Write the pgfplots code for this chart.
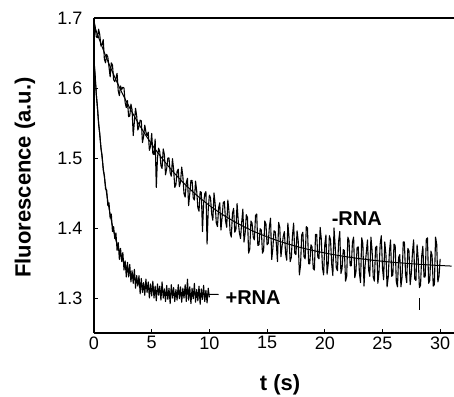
\documentclass[border=0pt]{standalone}
\usepackage{pgfplots}
\pgfplotsset{compat=1.18}
\usepackage{fontspec}
\setmainfont{Liberation Sans}
\begin{document}
\begin{tikzpicture}
\begin{axis}[
  at={(0,0)}, anchor=south west,
  scale only axis, width=360pt, height=315pt,
  xmin=0, xmax=31.2, ymin=1.25, ymax=1.7,
  axis lines*=left, axis line style={-, line width=1.2pt},
  tick align=inside, major tick length=4pt,
  tick style={line width=0.8pt, black},
  xtick={0,5,10,15,20,25,30}, ytick={1.3,1.4,1.5,1.6,1.7},
  yticklabel style={/pgf/number format/fixed, /pgf/number format/precision=1, /pgf/number format/fixed zerofill, xshift=-8pt},
  /pgf/number format/assume math mode=true,
  tick label style={font=\fontsize{18}{20}\selectfont},
  clip=false, no marks,
]
% -RNA trace
\addplot[black, line width=1.1pt, line join=round] coordinates {
(0.0,1.695)(0.1,1.688)(0.2,1.673)(0.3,1.672)(0.4,1.684)(0.5,1.676)(0.6,1.660)(0.7,1.662)(0.8,1.669)(0.9,1.641)
(1.0,1.636)(1.1,1.648)(1.2,1.644)(1.3,1.630)(1.4,1.616)(1.5,1.636)(1.6,1.633)(1.7,1.612)(1.8,1.609)(1.9,1.614)
(2.0,1.621)(2.1,1.596)(2.2,1.589)(2.3,1.603)(2.4,1.598)(2.5,1.601)(2.6,1.600)(2.7,1.579)(2.8,1.572)(2.9,1.582)
(3.0,1.559)(3.1,1.560)(3.2,1.577)(3.3,1.569)(3.4,1.532)(3.5,1.552)(3.6,1.571)(3.7,1.560)(3.8,1.540)(3.9,1.545)
(4.0,1.554)(4.1,1.553)(4.2,1.522)(4.3,1.531)(4.4,1.547)(4.5,1.537)(4.6,1.532)(4.7,1.537)(4.8,1.511)(4.9,1.517)
(5.0,1.535)(5.1,1.506)(5.2,1.505)(5.3,1.527)(5.4,1.458)(5.5,1.500)(5.6,1.514)(5.7,1.509)(5.8,1.489)(5.9,1.485)
(6.0,1.513)(6.1,1.505)(6.2,1.476)(6.3,1.485)(6.4,1.500)(6.5,1.500)(6.6,1.479)(6.7,1.474)(6.8,1.499)(6.9,1.484)
(7.0,1.458)(7.1,1.462)(7.2,1.481)(7.3,1.484)(7.4,1.459)(7.5,1.466)(7.6,1.487)(7.7,1.474)(7.8,1.449)(7.9,1.444)
(8.0,1.465)(8.1,1.471)(8.2,1.432)(8.3,1.449)(8.4,1.468)(8.5,1.468)(8.6,1.443)(8.7,1.440)(8.8,1.467)(8.9,1.453)
(9.0,1.429)(9.1,1.424)(9.2,1.452)(9.3,1.451)(9.4,1.395)(9.5,1.435)(9.6,1.449)(9.7,1.452)(9.8,1.377)(9.9,1.426)
(10.0,1.447)(10.1,1.443)(10.2,1.420)(10.3,1.411)(10.4,1.450)(10.5,1.434)(10.6,1.407)(10.7,1.402)(10.8,1.429)(10.9,1.436)
(11.0,1.397)(11.1,1.415)(11.2,1.436)(11.3,1.438)(11.4,1.410)(11.5,1.401)(11.6,1.440)(11.7,1.423)(11.8,1.393)(11.9,1.387)
(12.0,1.421)(12.1,1.428)(12.2,1.394)(12.3,1.398)(12.4,1.435)(12.5,1.410)(12.6,1.393)(12.7,1.385)(12.8,1.408)(12.9,1.427)
(13.0,1.380)(13.1,1.393)(13.2,1.419)(13.3,1.415)(13.4,1.364)(13.5,1.370)(13.6,1.410)(13.7,1.407)(13.8,1.387)(13.9,1.383)
(14.0,1.418)(14.1,1.420)(14.2,1.375)(14.3,1.376)(14.4,1.399)(14.5,1.397)(14.6,1.364)(14.7,1.368)(14.8,1.410)(14.9,1.406)
(15.0,1.376)(15.1,1.378)(15.2,1.402)(15.3,1.414)(15.4,1.355)(15.5,1.371)(15.6,1.396)(15.7,1.395)(15.8,1.378)(15.9,1.352)
(16.0,1.408)(16.1,1.401)(16.2,1.359)(16.3,1.374)(16.4,1.388)(16.5,1.395)(16.6,1.364)(16.7,1.354)(16.8,1.407)(16.9,1.387)
(17.0,1.352)(17.1,1.358)(17.2,1.389)(17.3,1.407)(17.4,1.364)(17.5,1.362)(17.6,1.396)(17.7,1.381)(17.8,1.333)(17.9,1.347)
(18.0,1.390)(18.1,1.394)(18.2,1.359)(18.3,1.356)(18.4,1.402)(18.5,1.400)(18.6,1.349)(18.7,1.349)(18.8,1.376)(18.9,1.373)
(19.0,1.342)(19.1,1.340)(19.2,1.391)(19.3,1.391)(19.4,1.358)(19.5,1.356)(19.6,1.401)(19.7,1.384)(19.8,1.343)(19.9,1.333)
(20.0,1.376)(20.1,1.390)(20.2,1.334)(20.3,1.349)(20.4,1.389)(20.5,1.383)(20.6,1.348)(20.7,1.332)(20.8,1.400)(20.9,1.374)
(21.0,1.343)(21.1,1.339)(21.2,1.381)(21.3,1.395)(21.4,1.335)(21.5,1.342)(21.6,1.369)(21.7,1.368)(21.8,1.324)(21.9,1.331)
(22.0,1.387)(22.1,1.382)(22.2,1.346)(22.3,1.346)(22.4,1.380)(22.5,1.387)(22.6,1.329)(22.7,1.337)(22.8,1.372)(22.9,1.373)
(23.0,1.336)(23.1,1.322)(23.2,1.386)(23.3,1.378)(23.4,1.317)(23.5,1.347)(23.6,1.365)(23.7,1.383)(23.8,1.340)(23.9,1.331)
(24.0,1.387)(24.1,1.368)(24.2,1.330)(24.3,1.324)(24.4,1.372)(24.5,1.374)(24.6,1.321)(24.7,1.337)(24.8,1.377)(24.9,1.389)
(25.0,1.343)(25.1,1.326)(25.2,1.380)(25.3,1.362)(25.4,1.316)(25.5,1.330)(25.6,1.366)(25.7,1.383)(25.8,1.331)(25.9,1.333)
(26.0,1.377)(26.1,1.375)(26.2,1.323)(26.3,1.316)(26.4,1.358)(26.5,1.362)(26.6,1.316)(26.7,1.330)(26.8,1.380)(26.9,1.380)
(27.0,1.334)(27.1,1.322)(27.2,1.371)(27.3,1.367)(27.4,1.319)(27.5,1.335)(27.6,1.365)(27.7,1.383)(27.8,1.327)(27.9,1.325)
(28.0,1.376)(28.1,1.356)(28.2,1.315)(28.3,1.318)(28.4,1.360)(28.5,1.374)(28.6,1.330)(28.7,1.330)(28.8,1.384)(28.9,1.386)
(29.0,1.321)(29.1,1.325)(29.2,1.367)(29.3,1.361)(29.4,1.317)(29.5,1.319)(29.6,1.387)(29.7,1.377)(29.8,1.323)(29.9,1.331)
(30.0,1.356)
};
% -RNA fit
\addplot[black, line width=1pt, smooth] coordinates {
(0,1.690)(1,1.6463)(2,1.6081)(3,1.5746)(4,1.5453)(5,1.5197)(6,1.4973)(7,1.4776)(8,1.4604)(9,1.4454)
(10,1.4323)(11,1.4207)(12,1.4107)(13,1.4018)(14,1.3941)(15,1.3874)(16,1.3814)(17,1.3763)(18,1.3717)(19,1.3678)
(20,1.3643)(21,1.3613)(22,1.3586)(23,1.3563)(24,1.3543)(25,1.3525)(26,1.3509)(27,1.3496)(28,1.3484)(29,1.3473)
(30,1.3464)(31,1.3456)
};
% +RNA trace
\addplot[black, line width=1.1pt, line join=round] coordinates {
(0.0,1.640)(0.1,1.618)(0.2,1.590)(0.3,1.573)(0.4,1.548)(0.5,1.535)(0.6,1.514)(0.7,1.504)(0.8,1.483)(0.9,1.475)
(1.0,1.456)(1.1,1.454)(1.2,1.432)(1.3,1.436)(1.4,1.414)(1.5,1.420)(1.6,1.395)(1.7,1.402)(1.8,1.385)(1.9,1.393)
(2.0,1.368)(2.1,1.379)(2.2,1.355)(2.3,1.371)(2.4,1.352)(2.5,1.365)(2.6,1.340)(2.7,1.353)(2.8,1.330)(2.9,1.351)
(3.0,1.330)(3.1,1.348)(3.2,1.323)(3.3,1.339)(3.4,1.321)(3.5,1.341)(3.6,1.314)(3.7,1.332)(3.8,1.317)(3.9,1.332)
(4.0,1.306)(4.1,1.328)(4.2,1.308)(4.3,1.322)(4.4,1.304)(4.5,1.327)(4.6,1.308)(4.7,1.323)(4.8,1.300)(4.9,1.320)
(5.0,1.303)(5.1,1.324)(5.2,1.300)(5.3,1.317)(5.4,1.296)(5.5,1.320)(5.6,1.304)(5.7,1.317)(5.8,1.297)(5.9,1.323)
(6.0,1.300)(6.1,1.313)(6.2,1.295)(6.3,1.318)(6.4,1.298)(6.5,1.314)(6.6,1.292)(6.7,1.319)(6.8,1.300)(6.9,1.315)
(7.0,1.295)(7.1,1.312)(7.2,1.297)(7.3,1.319)(7.4,1.299)(7.5,1.316)(7.6,1.294)(7.7,1.314)(7.8,1.300)(7.9,1.319)
(8.0,1.295)(8.1,1.327)(8.2,1.297)(8.3,1.316)(8.4,1.292)(8.5,1.314)(8.6,1.299)(8.7,1.321)(8.8,1.294)(8.9,1.312)
(9.0,1.296)(9.1,1.317)(9.2,1.291)(9.3,1.313)(9.4,1.298)(9.5,1.318)(9.6,1.295)(9.7,1.311)(9.8,1.293)(9.9,1.314)
(10.0,1.301)
};
% +RNA fit
\addplot[black, line width=1pt, smooth] coordinates {
(0,1.640)(0.2,1.592)(0.4,1.551)(0.6,1.516)(0.8,1.486)(1.0,1.460)(1.2,1.438)(1.4,1.419)(1.6,1.403)(1.8,1.389)
(2.0,1.377)(2.5,1.354)(3.0,1.338)(3.5,1.328)(4.0,1.320)(5.0,1.312)(6.0,1.308)(7.0,1.3065)(8.0,1.3057)(10.8,1.305)
};
% small marker line
\addplot[black, line width=0.9pt] coordinates {(28.2,1.283)(28.2,1.300)};
\draw[line width=1.2pt] (rel axis cs:0,1) -- (rel axis cs:1,1);
\node[anchor=west, font=\bfseries\fontsize{20}{22}\selectfont] at (axis cs:20.3,1.414) {-RNA};
\node[anchor=west, font=\bfseries\fontsize{20}{22}\selectfont] at (axis cs:11.1,1.301) {+RNA};
\node[rotate=90, font=\bfseries\fontsize{22}{24}\selectfont] at ([xshift=-69pt]rel axis cs:0,0.494) {Fluorescence (a.u.)};
\node[font=\bfseries\fontsize{22}{24}\selectfont] at ([yshift=-52pt]rel axis cs:0.517,0) {t (s)};
\end{axis}
\pgfresetboundingbox
\path[use as bounding box] (-94pt,-63pt) rectangle (360pt,333pt);
\end{tikzpicture}
\end{document}
